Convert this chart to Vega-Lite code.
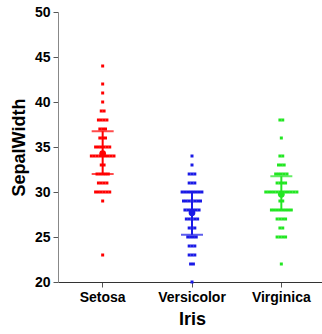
{
  "$schema": "https://vega.github.io/schema/vega-lite/v6.json",
  "width": 268,
  "height": 270,
  "autosize": "none",
  "padding": {"left": 58, "top": 12, "right": 0, "bottom": 52},
  "background": "white",
  "config": {
    "view": {"stroke": null},
    "font": "Liberation Sans",
    "axis": {"grid": false, "labelFont": "Liberation Sans", "titleFont": "Liberation Sans", "labelFontWeight": "bold", "titleFontWeight": "bold", "labelColor": "#000", "titleColor": "#000", "domainColor": "#555", "tickColor": "#555", "tickSize": 5, "labelFontSize": 14, "titleFontSize": 18}
  },
  "data": {"values": [
    {"Species":"Setosa","SepalWidth":35},{"Species":"Setosa","SepalWidth":30},{"Species":"Setosa","SepalWidth":32},{"Species":"Setosa","SepalWidth":31},{"Species":"Setosa","SepalWidth":36},{"Species":"Setosa","SepalWidth":39},{"Species":"Setosa","SepalWidth":34},{"Species":"Setosa","SepalWidth":34},{"Species":"Setosa","SepalWidth":29},{"Species":"Setosa","SepalWidth":31},
    {"Species":"Setosa","SepalWidth":37},{"Species":"Setosa","SepalWidth":34},{"Species":"Setosa","SepalWidth":30},{"Species":"Setosa","SepalWidth":30},{"Species":"Setosa","SepalWidth":40},{"Species":"Setosa","SepalWidth":44},{"Species":"Setosa","SepalWidth":39},{"Species":"Setosa","SepalWidth":35},{"Species":"Setosa","SepalWidth":38},{"Species":"Setosa","SepalWidth":38},
    {"Species":"Setosa","SepalWidth":34},{"Species":"Setosa","SepalWidth":37},{"Species":"Setosa","SepalWidth":36},{"Species":"Setosa","SepalWidth":33},{"Species":"Setosa","SepalWidth":34},{"Species":"Setosa","SepalWidth":30},{"Species":"Setosa","SepalWidth":34},{"Species":"Setosa","SepalWidth":35},{"Species":"Setosa","SepalWidth":34},{"Species":"Setosa","SepalWidth":32},
    {"Species":"Setosa","SepalWidth":31},{"Species":"Setosa","SepalWidth":34},{"Species":"Setosa","SepalWidth":41},{"Species":"Setosa","SepalWidth":42},{"Species":"Setosa","SepalWidth":31},{"Species":"Setosa","SepalWidth":32},{"Species":"Setosa","SepalWidth":35},{"Species":"Setosa","SepalWidth":36},{"Species":"Setosa","SepalWidth":30},{"Species":"Setosa","SepalWidth":34},
    {"Species":"Setosa","SepalWidth":35},{"Species":"Setosa","SepalWidth":23},{"Species":"Setosa","SepalWidth":32},{"Species":"Setosa","SepalWidth":35},{"Species":"Setosa","SepalWidth":38},{"Species":"Setosa","SepalWidth":30},{"Species":"Setosa","SepalWidth":38},{"Species":"Setosa","SepalWidth":32},{"Species":"Setosa","SepalWidth":37},{"Species":"Setosa","SepalWidth":33},
    {"Species":"Versicolor","SepalWidth":32},{"Species":"Versicolor","SepalWidth":32},{"Species":"Versicolor","SepalWidth":31},{"Species":"Versicolor","SepalWidth":23},{"Species":"Versicolor","SepalWidth":28},{"Species":"Versicolor","SepalWidth":28},{"Species":"Versicolor","SepalWidth":33},{"Species":"Versicolor","SepalWidth":24},{"Species":"Versicolor","SepalWidth":29},{"Species":"Versicolor","SepalWidth":27},
    {"Species":"Versicolor","SepalWidth":20},{"Species":"Versicolor","SepalWidth":30},{"Species":"Versicolor","SepalWidth":22},{"Species":"Versicolor","SepalWidth":29},{"Species":"Versicolor","SepalWidth":29},{"Species":"Versicolor","SepalWidth":31},{"Species":"Versicolor","SepalWidth":30},{"Species":"Versicolor","SepalWidth":27},{"Species":"Versicolor","SepalWidth":22},{"Species":"Versicolor","SepalWidth":25},
    {"Species":"Versicolor","SepalWidth":32},{"Species":"Versicolor","SepalWidth":28},{"Species":"Versicolor","SepalWidth":25},{"Species":"Versicolor","SepalWidth":28},{"Species":"Versicolor","SepalWidth":29},{"Species":"Versicolor","SepalWidth":30},{"Species":"Versicolor","SepalWidth":28},{"Species":"Versicolor","SepalWidth":30},{"Species":"Versicolor","SepalWidth":29},{"Species":"Versicolor","SepalWidth":26},
    {"Species":"Versicolor","SepalWidth":24},{"Species":"Versicolor","SepalWidth":24},{"Species":"Versicolor","SepalWidth":27},{"Species":"Versicolor","SepalWidth":27},{"Species":"Versicolor","SepalWidth":30},{"Species":"Versicolor","SepalWidth":34},{"Species":"Versicolor","SepalWidth":31},{"Species":"Versicolor","SepalWidth":23},{"Species":"Versicolor","SepalWidth":30},{"Species":"Versicolor","SepalWidth":25},
    {"Species":"Versicolor","SepalWidth":26},{"Species":"Versicolor","SepalWidth":30},{"Species":"Versicolor","SepalWidth":26},{"Species":"Versicolor","SepalWidth":23},{"Species":"Versicolor","SepalWidth":27},{"Species":"Versicolor","SepalWidth":30},{"Species":"Versicolor","SepalWidth":29},{"Species":"Versicolor","SepalWidth":29},{"Species":"Versicolor","SepalWidth":25},{"Species":"Versicolor","SepalWidth":28},
    {"Species":"Virginica","SepalWidth":33},{"Species":"Virginica","SepalWidth":27},{"Species":"Virginica","SepalWidth":30},{"Species":"Virginica","SepalWidth":29},{"Species":"Virginica","SepalWidth":30},{"Species":"Virginica","SepalWidth":30},{"Species":"Virginica","SepalWidth":25},{"Species":"Virginica","SepalWidth":29},{"Species":"Virginica","SepalWidth":25},{"Species":"Virginica","SepalWidth":36},
    {"Species":"Virginica","SepalWidth":32},{"Species":"Virginica","SepalWidth":27},{"Species":"Virginica","SepalWidth":30},{"Species":"Virginica","SepalWidth":25},{"Species":"Virginica","SepalWidth":28},{"Species":"Virginica","SepalWidth":32},{"Species":"Virginica","SepalWidth":30},{"Species":"Virginica","SepalWidth":38},{"Species":"Virginica","SepalWidth":26},{"Species":"Virginica","SepalWidth":22},
    {"Species":"Virginica","SepalWidth":32},{"Species":"Virginica","SepalWidth":28},{"Species":"Virginica","SepalWidth":28},{"Species":"Virginica","SepalWidth":27},{"Species":"Virginica","SepalWidth":33},{"Species":"Virginica","SepalWidth":32},{"Species":"Virginica","SepalWidth":28},{"Species":"Virginica","SepalWidth":30},{"Species":"Virginica","SepalWidth":28},{"Species":"Virginica","SepalWidth":30},
    {"Species":"Virginica","SepalWidth":28},{"Species":"Virginica","SepalWidth":38},{"Species":"Virginica","SepalWidth":28},{"Species":"Virginica","SepalWidth":28},{"Species":"Virginica","SepalWidth":26},{"Species":"Virginica","SepalWidth":30},{"Species":"Virginica","SepalWidth":34},{"Species":"Virginica","SepalWidth":31},{"Species":"Virginica","SepalWidth":30},{"Species":"Virginica","SepalWidth":31},
    {"Species":"Virginica","SepalWidth":31},{"Species":"Virginica","SepalWidth":31},{"Species":"Virginica","SepalWidth":27},{"Species":"Virginica","SepalWidth":32},{"Species":"Virginica","SepalWidth":33},{"Species":"Virginica","SepalWidth":30},{"Species":"Virginica","SepalWidth":25},{"Species":"Virginica","SepalWidth":30},{"Species":"Virginica","SepalWidth":34},{"Species":"Virginica","SepalWidth":30}
  ]},
  "encoding": {
    "x": {"field": "Species", "type": "nominal", "sort": ["Setosa","Versicolor","Virginica"], "scale": {"type": "band", "paddingInner": 0.62, "paddingOuter": 0.31}, "axis": {"title": "Iris", "labelAngle": 0, "labelPadding": 3, "titlePadding": 6, "domainColor": "#333"}},
    "y": {"field": "SepalWidth", "type": "quantitative", "scale": {"domain": [20, 50], "nice": false, "zero": false}, "axis": {"title": "SepalWidth", "values": [20,25,30,35,40,45,50], "labelPadding": 3, "titlePadding": 6, "domainColor": "#888"}},
    "color": {"field": "Species", "type": "nominal", "scale": {"domain": ["Setosa","Versicolor","Virginica"], "range": ["#ff0000","#1a1ae6","#22e622"]}, "legend": null}
  },
  "layer": [
    {
      "transform": [
        {"window": [{"op": "row_number", "as": "rk"}], "groupby": ["Species", "SepalWidth"]},
        {"joinaggregate": [{"op": "count", "as": "n"}], "groupby": ["Species", "SepalWidth"]},
        {"calculate": "(datum.rk - (datum.n + 1) / 2) * 2", "as": "off"}
      ],
      "mark": {"type": "square", "size": 9, "opacity": 1, "filled": true},
      "encoding": {
        "xOffset": {"field": "off", "type": "ordinal", "scale": {"type": "point", "padding": 0, "domain": [-12,-11,-10,-9,-8,-7,-6,-5,-4,-3,-2,-1,0,1,2,3,4,5,6,7,8,9,10,11,12]}}
      }
    },
    {
      "mark": {"type": "errorbar", "extent": "iqr", "ticks": {"size": 22, "thickness": 2}, "rule": {"strokeWidth": 2}},
      "encoding": {"y": {"field": "SepalWidth", "type": "quantitative"}}
    },
    {
      "mark": {"type": "circle", "size": 45, "opacity": 1},
      "encoding": {"y": {"aggregate": "mean", "field": "SepalWidth", "type": "quantitative"}}
    }
  ]
}
